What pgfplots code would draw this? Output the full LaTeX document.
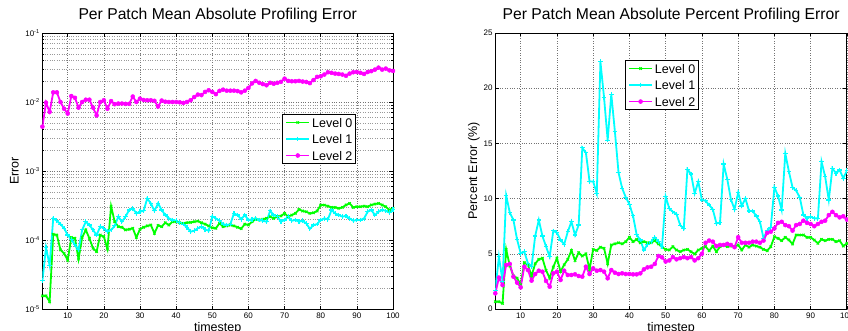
\documentclass[border=0pt]{standalone}
\usepackage{fontspec}
\setmainfont{Liberation Sans}
\usepackage{pgfplots}
\pgfplotsset{compat=1.18}
\usepackage{pgfplotstable}
\definecolor{mgreen}{rgb}{0,1,0}
\definecolor{mcyan}{rgb}{0,1,1}
\definecolor{mmagenta}{rgb}{1,0,1}

\pgfplotstableread{
x a b c
3 1.55e-5 2.57e-5 0.0044
4 1.55e-5 7.8e-5 0.0098
5 1.28e-5 4.3e-5 0.0072
6 1.21e-4 2.06e-4 0.0138
7 1.18e-4 1.9e-4 0.0138
8 7.2e-5 1.7e-4 0.0100
9 6.4e-5 1.48e-4 0.0080
10 5.1e-5 1.18e-4 0.0068
11 1.09e-4 1.02e-4 0.0122
12 1.06e-4 8.5e-5 0.0115
13 5.3e-5 7.2e-5 0.0083
14 1.09e-4 1.4e-4 0.0100
15 1.40e-4 1.84e-4 0.0108
16 1.06e-4 1.65e-4 0.0108
17 7.6e-5 1.4e-4 0.0083
18 6.8e-5 1.18e-4 0.0064
19 1.18e-4 1.56e-4 0.0100
20 1.12e-4 1.48e-4 0.0106
21 7.4e-5 1.32e-4 0.0080
22 3.1e-4 1.4e-4 0.0103
23 1.84e-4 1.6e-4 0.0093
24 1.56e-4 2.18e-4 0.0095
25 1.53e-4 1.84e-4 0.0095
26 1.40e-4 2.18e-4 0.0094
27 1.43e-4 2.72e-4 0.0094
28 1.48e-4 2.88e-4 0.0120
29 1.09e-4 2.43e-4 0.0100
30 1.43e-4 2.57e-4 0.0112
31 1.53e-4 2.65e-4 0.0107
32 1.60e-4 4.0e-4 0.0106
33 1.65e-4 3.4e-4 0.0106
34 1.25e-4 2.65e-4 0.0104
35 1.63e-4 3.4e-4 0.0086
36 1.56e-4 2.72e-4 0.0105
37 1.78e-4 2.3e-4 0.0101
38 1.65e-4 2.06e-4 0.0100
39 1.84e-4 1.95e-4 0.0100
40 1.84e-4 1.9e-4 0.0100
41 1.78e-4 1.78e-4 0.0099
42 1.74e-4 1.7e-4 0.0097
43 1.78e-4 1.53e-4 0.0100
44 1.80e-4 1.32e-4 0.0106
45 1.84e-4 1.36e-4 0.0118
46 1.88e-4 1.48e-4 0.0128
47 1.78e-4 1.56e-4 0.0126
48 1.70e-4 1.43e-4 0.0140
49 1.60e-4 1.36e-4 0.0148
50 1.50e-4 2.2e-4 0.0140
51 1.48e-4 2.06e-4 0.0130
52 1.75e-4 1.9e-4 0.0145
53 1.56e-4 1.7e-4 0.0151
54 1.60e-4 1.65e-4 0.0146
55 1.65e-4 1.7e-4 0.0146
56 1.60e-4 2.43e-4 0.0146
57 1.53e-4 2.3e-4 0.0144
58 1.46e-4 2.0e-4 0.0138
59 1.70e-4 2.3e-4 0.0146
60 1.65e-4 1.95e-4 0.0160
61 1.84e-4 2.0e-4 0.0186
62 2.0e-4 2.06e-4 0.0202
63 1.95e-4 1.95e-4 0.0190
64 2.0e-4 1.9e-4 0.0182
65 2.06e-4 1.84e-4 0.0175
66 2.18e-4 2.65e-4 0.0190
67 2.06e-4 2.3e-4 0.0184
68 2.18e-4 2.18e-4 0.0190
69 2.23e-4 1.84e-4 0.0196
70 2.43e-4 1.95e-4 0.0218
71 2.18e-4 2.18e-4 0.0202
72 2.30e-4 1.9e-4 0.0200
73 2.43e-4 1.95e-4 0.0200
74 2.78e-4 1.84e-4 0.0202
75 2.63e-4 1.9e-4 0.0198
76 2.57e-4 1.74e-4 0.0195
77 2.43e-4 1.45e-4 0.0188
78 2.48e-4 1.65e-4 0.0208
79 2.63e-4 1.7e-4 0.0231
80 3.21e-4 1.95e-4 0.0236
81 3.21e-4 2.06e-4 0.0250
82 3.10e-4 2.0e-4 0.0270
83 2.97e-4 2.72e-4 0.0265
84 2.97e-4 2.43e-4 0.0258
85 2.88e-4 2.3e-4 0.0255
86 2.97e-4 2.18e-4 0.0250
87 3.22e-4 2.23e-4 0.0240
88 3.39e-4 2.06e-4 0.0258
89 2.97e-4 1.9e-4 0.0270
90 3.04e-4 1.95e-4 0.0272
91 3.04e-4 1.95e-4 0.0265
92 3.10e-4 2.06e-4 0.0255
93 3.04e-4 2.57e-4 0.0272
94 3.22e-4 2.72e-4 0.0280
95 3.32e-4 2.3e-4 0.0295
96 3.39e-4 2.57e-4 0.0315
97 3.22e-4 2.72e-4 0.0295
98 3.04e-4 2.65e-4 0.0305
99 2.72e-4 2.5e-4 0.0288
100 2.88e-4 2.78e-4 0.0282
}\leftdata

\pgfplotstableread{
x a b c
3 0.66 1.7 1.42
4 0.66 4.74 2.84
5 0.51 2.5 2.17
6 5.4 10.27 3.99
7 3.9 8.73 4.08
8 3.0 8.06 2.93
9 2.8 6.31 2.39
10 2.2 5.04 1.96
11 4.2 5.19 3.83
12 4.0 4.14 3.53
13 3.0 3.83 2.57
14 4.1 6.61 3.17
15 4.5 8.06 3.47
16 4.6 6.61 3.38
17 3.5 5.65 2.54
18 2.8 4.74 2.02
19 3.8 7.07 3.23
20 4.6 6.91 3.38
21 3.4 6.25 2.63
22 4.0 5.86 3.47
23 4.5 7.0 3.08
24 5.3 7.91 3.08
25 4.4 6.7 3.14
26 5.1 7.61 2.99
27 4.8 14.6 2.93
28 5.0 14.16 3.83
29 3.6 11.54 3.17
30 5.4 11.54 3.68
31 5.3 10.48 3.47
32 5.6 22.4 3.53
33 5.5 19.16 3.38
34 4.1 15.3 2.78
35 5.8 19.46 3.53
36 5.9 16.05 3.29
37 6.0 12.35 3.17
38 5.9 10.93 3.23
39 6.1 10.12 3.17
40 6.5 9.49 3.17
41 6.1 8.43 3.14
42 6.3 6.72 3.14
43 6.0 6.25 3.23
44 6.1 5.34 3.59
45 6.0 5.86 3.77
46 6.0 6.1 3.83
47 6.2 6.49 4.08
48 5.9 6.1 4.8
49 5.6 5.65 4.68
50 5.4 10.18 4.3
51 5.34 9.1 4.4
52 5.65 8.8 4.7
53 5.34 8.6 4.5
54 5.19 7.6 4.6
55 5.34 7.3 4.7
56 5.4 12.65 4.6
57 5.19 12.23 4.7
58 4.98 10.48 4.4
59 5.34 11.53 4.6
60 5.5 9.87 5.0
61 5.65 9.8 6.0
62 5.28 9.42 6.2
63 5.7 9.03 6.1
64 5.19 7.76 5.7
65 5.65 7.82 5.8
66 5.8 13.13 5.8
67 5.65 11.75 5.9
68 5.7 9.93 5.8
69 5.65 9.03 5.6
70 5.8 10.54 6.5
71 5.34 9.33 6.0
72 5.8 10.02 6.0
73 5.6 8.88 6.0
74 5.8 8.88 6.1
75 5.7 8.42 6.1
76 5.6 7.91 6.0
77 5.4 6.4 6.2
78 5.28 7.1 6.9
79 5.65 7.4 7.0
80 6.55 11.02 7.3
81 6.4 10.24 7.8
82 6.19 8.97 7.9
83 6.49 14.1 7.6
84 6.25 12.44 7.5
85 5.89 11.02 7.1
86 6.7 10.72 7.6
87 6.7 10.11 7.7
88 6.7 8.51 8.0
89 6.49 8.21 7.8
90 6.49 8.36 7.7
91 6.25 8.21 7.5
92 5.95 8.21 7.7
93 6.31 13.35 7.9
94 6.19 11.99 8.0
95 6.31 9.87 8.5
96 6.31 12.74 8.8
97 6.1 12.29 8.5
98 6.19 12.59 8.3
99 5.7 11.84 8.4
100 5.95 12.53 8.1
}\rightdata

\pgfplotsset{
  mlab/.style={
    scale only axis,
    height=276bp,
    xmin=3, xmax=100,
    xtick={10,20,...,100},
    tick align=inside,
    major tick length=3.5bp,
    minor tick length=2bp,
    every tick/.style={black, line width=0.5bp},
    axis line style={black, line width=0.9bp},
    xmajorgrids=true, ymajorgrids=true,
    major grid style={dotted, black!55, line width=0.5bp},
    minor grid style={dotted, black!40, line width=0.5bp},
    tick label style={font=\fontsize{8bp}{9bp}\selectfont},
    xticklabel style={inner sep=0pt, anchor=north, yshift=-4bp},
    yticklabel style={inner sep=0pt, anchor=east, xshift=-2.5bp},
    /pgf/number format/assume math mode=true,
    title style={font=\fontsize{15.7bp}{18bp}\selectfont, at={(axis description cs:0.5,1)}, anchor=base, yshift=8bp},
    label style={font=\fontsize{12.5bp}{14bp}\selectfont},
    xlabel style={at={(axis description cs:0.5,0)}, anchor=base, yshift=-22bp},
    legend style={draw=black, line width=1bp, font=\fontsize{12.5bp}{14bp}\selectfont,
      inner xsep=3bp, inner ysep=3.5bp, row sep=7.5bp, column sep=2bp,
      nodes={inner sep=0pt, text height=9bp, text depth=0pt}, anchor=north west},
    legend cell align=left,
    legend image code/.code={\draw[mark repeat=2, mark phase=2, #1] plot coordinates {(0bp,0bp) (11.5bp,0bp) (23bp,0bp)};},
  },
  l0/.style={mgreen, line width=1.8bp, mark=x, mark size=1.7bp, mark options={line width=1bp}},
  l1/.style={mcyan, line width=1.8bp, mark=+, mark size=2.3bp, mark options={line width=1.1bp}},
  l2/.style={mmagenta, line width=1.8bp, mark=*, mark size=2bp, mark options={line width=0.5bp}},
}

\begin{document}
\begin{tikzpicture}
\useasboundingbox (0,0) rectangle (848bp,331bp);
\begin{axis}[mlab,
  at={(42.4bp,22bp)}, anchor=south west,
  width=350.6bp,
  ymode=log, ymin=1e-5, ymax=1e-1,
  ytick={1e-5,1e-4,1e-3,1e-2,1e-1},
  yticklabels={{10\textsuperscript{-5}},{10\textsuperscript{-4}},{10\textsuperscript{-3}},{10\textsuperscript{-2}},{10\textsuperscript{-1}}},
  yminorgrids=true,
  title={Per Patch Mean Absolute Profiling Error},
  xlabel={timestep}, ylabel={Error},
  ylabel style={at={([xshift=-28bp]axis description cs:0,0.5)}, anchor=center},
  legend style={at={(0.683,0.7065)}},
]
\addplot[l0] table[x=x,y=a]{\leftdata};
\addplot[l1] table[x=x,y=b]{\leftdata};
\addplot[l2] table[x=x,y=c]{\leftdata};
\legend{Level 0, Level 1, Level 2}
\end{axis}
\begin{axis}[mlab,
  at={(495.3bp,22bp)}, anchor=south west,
  width=351.6bp,
  ymin=0, ymax=25,
  ytick={0,5,10,15,20,25},
  title={Per Patch Mean Absolute Percent Profiling Error},
  xlabel={timestep}, ylabel={Percent Error (\%)},
  ylabel style={at={([xshift=-21.3bp]axis description cs:0,0.5)}, anchor=center},
  legend style={at={(0.368,0.902)}},
]
\addplot[l0] table[x=x,y=a]{\rightdata};
\addplot[l1] table[x=x,y=b]{\rightdata};
\addplot[l2] table[x=x,y=c]{\rightdata};
\legend{Level 0, Level 1, Level 2}
\end{axis}
\end{tikzpicture}
\end{document}
